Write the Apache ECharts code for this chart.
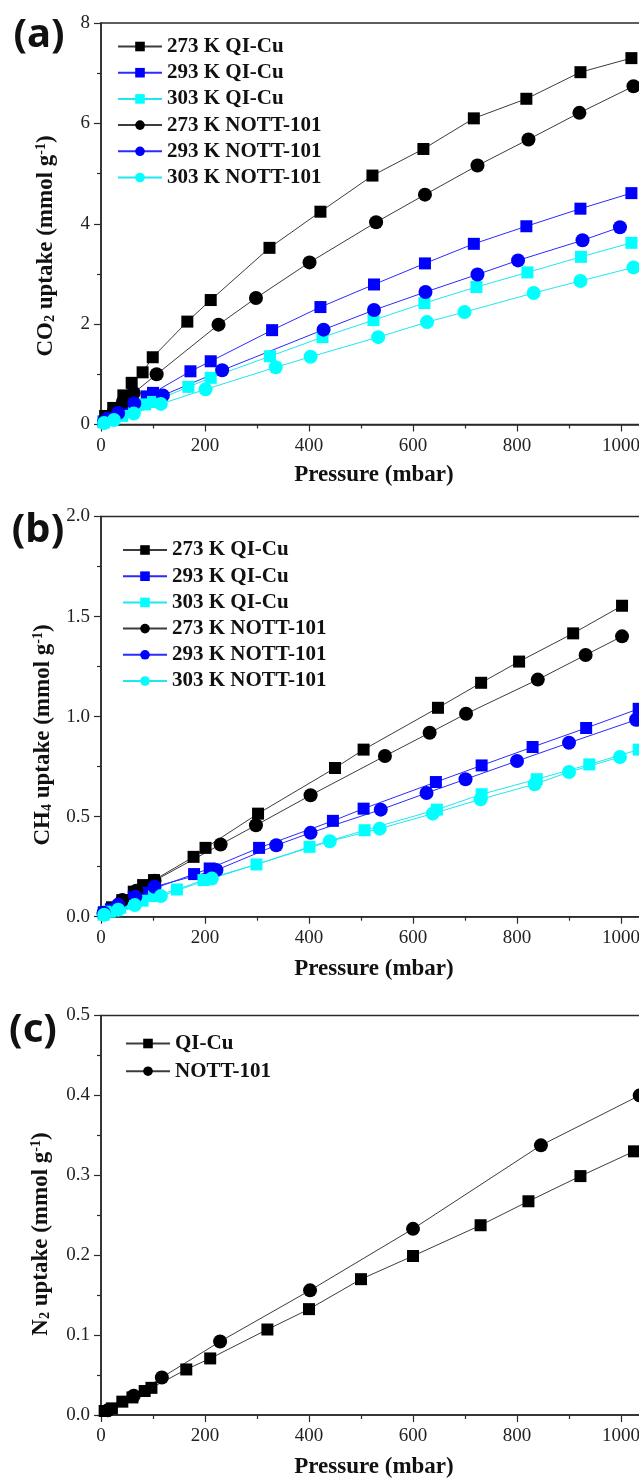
<!DOCTYPE html>
<html>
<head>
<meta charset="utf-8">
<script src="https://cdn.jsdelivr.net/npm/echarts@6/dist/echarts.min.js"></script>
<style>
  html, body { margin: 0; padding: 0; background: #fff; }
  #chart { width: 639px; height: 1479px; }
</style>
</head>
<body>
<div id="chart"></div>
<script>
// Pressure (mbar) / uptake (mmol g-1) pairs for each isotherm
const co2_273_qicu = [[8,0.17],[23.5,0.33],[43,0.58],[59,0.83],[80,1.04],[99.5,1.34],[166,2.05],[211,2.48],[324,3.52],[422,4.24],[522,4.96],[620,5.49],[717,6.10],[818,6.49],[922,7.02],[1020,7.30]];
const co2_293_qicu = [[5,0.06],[17,0.13],[41,0.27],[60,0.43],[88,0.56],[100,0.63],[172,1.06],[211,1.26],[329,1.88],[422,2.34],[525,2.79],[623,3.21],[717,3.60],[818,3.95],[922,4.30],[1020,4.61]];
const co2_303_qicu = [[5,0.04],[17,0.09],[41,0.17],[64,0.33],[85,0.40],[100,0.45],[168,0.75],[211,0.93],[325,1.36],[426,1.74],[524,2.08],[622,2.42],[722,2.74],[820,3.03],[923,3.34],[1020,3.62]];
const co2_273_nott = [[7,0.09],[25,0.27],[42,0.45],[63,0.63],[107,1.00],[226,1.99],[298,2.52],[401,3.23],[529,4.03],[623,4.58],[724,5.16],[822,5.68],[920,6.21],[1024,6.74]];
const co2_293_nott = [[6,0.05],[13,0.11],[33,0.23],[64,0.42],[119,0.58],[233,1.08],[428,1.89],[525,2.28],[624,2.64],[724,2.99],[802,3.27],[926,3.67],[998,3.93]];
const co2_303_nott = [[6,0.03],[25,0.09],[63,0.22],[115,0.41],[201,0.70],[336,1.14],[403,1.35],[533,1.74],[627,2.04],[699,2.24],[832,2.62],[922,2.86],[1024,3.13]];

const ch4_273_qicu = [[5.5,0.020],[21,0.047],[41,0.083],[63,0.125],[81,0.158],[102,0.183],[178,0.299],[201,0.344],[302,0.515],[450,0.743],[505,0.835],[648,1.044],[731,1.169],[804,1.275],[908,1.416],[1002,1.554]];
const ch4_293_qicu = [[5.5,0.022],[19,0.037],[41,0.067],[63,0.100],[81,0.120],[102,0.141],[179,0.213],[209,0.241],[304,0.344],[446,0.479],[505,0.540],[644,0.673],[732,0.756],[830,0.848],[933,0.943],[1034,1.039]];
const ch4_303_qicu = [[5,0.010],[17,0.025],[37,0.045],[60,0.065],[80,0.080],[102,0.103],[146,0.136],[197,0.183],[299,0.261],[401,0.349],[507,0.432],[646,0.535],[732,0.612],[838,0.687],[939,0.761],[1034,0.835]];
const ch4_273_nott = [[5,0.015],[41,0.083],[68,0.130],[103,0.180],[230,0.361],[298,0.457],[403,0.607],[546,0.803],[632,0.919],[702,1.014],[840,1.185],[932,1.308],[1002,1.401]];
const ch4_293_nott = [[5,0.020],[33,0.060],[66,0.100],[103,0.150],[222,0.233],[337,0.357],[403,0.419],[538,0.535],[626,0.618],[701,0.687],[800,0.778],[900,0.869],[1029,0.984]];
const ch4_303_nott = [[6,0.010],[33,0.035],[65,0.058],[115,0.103],[213,0.191],[440,0.377],[536,0.440],[638,0.515],[730,0.587],[834,0.662],[900,0.723],[998,0.798]];

const n2_qicu = [[7,0.005],[21,0.0083],[41,0.0167],[60.5,0.022],[84,0.030],[97,0.034],[164,0.057],[210,0.0708],[320,0.107],[400,0.1325],[500,0.170],[600,0.199],[730,0.2375],[822,0.2675],[922,0.299],[1025,0.330]];
const n2_nott = [[13,0.006],[63,0.024],[117,0.047],[229,0.092],[402,0.156],[600,0.233],[846,0.3375],[1036,0.400]];

// Axis ranges and tick steps
const xRange = [0, 1050, 200];
const yRanges = [[0, 8, 2], [0, 2, 0.5], [0, 0.5, 0.1]];
const panelLabels = ['(a)', '(b)', '(c)'];
const gasNames = ['CO', 'CH', 'N'];
const gasSubs = ['2', '4', '2'];
const legendNames6 = ['273 K QI-Cu', '293 K QI-Cu', '303 K QI-Cu', '273 K NOTT-101', '293 K NOTT-101', '303 K NOTT-101'];
const legendNames2 = ['QI-Cu', 'NOTT-101'];

const SERIF = '"Liberation Serif", "Times New Roman", serif';
const AXIS_COLOR = '#2a2a2a';
const COLORS = { k: '#000000', b: '#0000ff', c: '#00ffff' };
const LINE_COLORS = { k: '#3c3c3c', b: '#2b2bff', c: '#1ee8ee' };

// Layout of the three stacked panels (pixels); the right side runs past the page edge
const grids = [
  { left: 101, top: 23, width: 546, height: 401.5 },
  { left: 101, top: 516.5, width: 546, height: 400.2 },
  { left: 101, top: 1015.5, width: 546, height: 399.5 }
];
const xNameGaps = [39, 41, 41];
const legendTops = [31, 534.5, 1028];
const legendLefts = [112, 117, 120];
const legendGaps = [5.2, 5.2, 6.7];
const yTitlePos = [[46, 246], [43, 735], [41, 1234]];
const labelPos = [[39, 36], [38, 531], [33, 1031]];

function xAxisFor(i) {
  return {
    type: 'value', gridIndex: i,
    min: xRange[0], max: xRange[1], interval: xRange[2],
    name: 'Pressure (mbar)', nameLocation: 'middle', nameGap: xNameGaps[i],
    nameTextStyle: { fontFamily: SERIF, fontWeight: 'bold', fontSize: 23, color: '#111' },
    axisLine: { show: true, lineStyle: { color: AXIS_COLOR, width: 1.5 } },
    axisTick: { show: true, inside: false, length: 7, lineStyle: { color: AXIS_COLOR, width: 1.2 } },
    minorTick: { show: true, splitNumber: 2, length: 4, lineStyle: { color: AXIS_COLOR, width: 1.2 } },
    axisLabel: {
      fontFamily: SERIF, fontSize: 19, color: '#222', margin: 12,
      formatter: v => (v % 200 === 0 ? String(v) : '')
    },
    splitLine: { show: false }
  };
}

function yAxisFor(i) {
  const r = yRanges[i];
  const dec = i === 0 ? 0 : 1;
  return {
    type: 'value', gridIndex: i,
    min: r[0], max: r[1], interval: r[2],
    axisLine: { show: true, lineStyle: { color: AXIS_COLOR, width: 1.5 } },
    axisTick: { show: true, inside: false, length: 7, lineStyle: { color: AXIS_COLOR, width: 1.2 } },
    minorTick: { show: true, splitNumber: 2, length: 4, lineStyle: { color: AXIS_COLOR, width: 1.2 } },
    axisLabel: {
      fontFamily: SERIF, fontSize: 19, color: '#222', margin: 11,
      formatter: v => v.toFixed(dec)
    },
    splitLine: { show: false }
  };
}

function line(name, data, i, shape, tone) {
  return {
    type: 'line', name: name, data: data,
    xAxisIndex: i, yAxisIndex: i,
    symbol: shape === 'sq' ? 'rect' : 'circle',
    symbolSize: shape === 'sq' ? 12 : 14,
    showAllSymbol: true,
    itemStyle: { color: COLORS[tone] },
    lineStyle: { color: LINE_COLORS[tone], width: 1 },
    emphasis: { disabled: true },
    animation: false
  };
}

const series = [
  line(legendNames6[0], co2_273_qicu, 0, 'sq', 'k'),
  line(legendNames6[1], co2_293_qicu, 0, 'sq', 'b'),
  line(legendNames6[2], co2_303_qicu, 0, 'sq', 'c'),
  line(legendNames6[3], co2_273_nott, 0, 'ci', 'k'),
  line(legendNames6[4], co2_293_nott, 0, 'ci', 'b'),
  line(legendNames6[5], co2_303_nott, 0, 'ci', 'c'),
  line(legendNames6[0], ch4_273_qicu, 1, 'sq', 'k'),
  line(legendNames6[1], ch4_293_qicu, 1, 'sq', 'b'),
  line(legendNames6[2], ch4_303_qicu, 1, 'sq', 'c'),
  line(legendNames6[3], ch4_273_nott, 1, 'ci', 'k'),
  line(legendNames6[4], ch4_293_nott, 1, 'ci', 'b'),
  line(legendNames6[5], ch4_303_nott, 1, 'ci', 'c'),
  line(legendNames2[0], n2_qicu, 2, 'sq', 'k'),
  line(legendNames2[1], n2_nott, 2, 'ci', 'k')
];

function legendFor(i, names) {
  return {
    orient: 'vertical',
    left: legendLefts[i], top: legendTops[i],
    itemWidth: 44, itemHeight: 12, itemGap: legendGaps[i],
    selectedMode: false,
    data: names,
    textStyle: { fontFamily: SERIF, fontWeight: 'bold', fontSize: 21, color: '#111' }
  };
}

// Panel letters and rotated y-axis titles with sub/superscripts
const graphics = [];
for (let i = 0; i < 3; i++) {
  graphics.push({
    type: 'text', x: labelPos[i][0], y: labelPos[i][1],
    style: {
      text: panelLabels[i], align: 'center', verticalAlign: 'middle',
      fontFamily: '"Noto Sans", "Open Sans", sans-serif', fontWeight: 'bold', fontSize: 40, fill: '#111'
    }
  });
  graphics.push({
    type: 'text', x: yTitlePos[i][0], y: yTitlePos[i][1], rotation: Math.PI / 2,
    style: {
      text: '{m|' + gasNames[i] + '}{sub|' + gasSubs[i] + '}{m| uptake (mmol g}{sup|-1}{m|)}',
      align: 'center', verticalAlign: 'middle',
      rich: {
        m: { fontFamily: SERIF, fontWeight: 'bold', fontSize: 23, lineHeight: 23, fill: '#111', color: '#111' },
        sub: { fontFamily: SERIF, fontWeight: 'bold', fontSize: 14, lineHeight: 6, fill: '#111', color: '#111', verticalAlign: 'bottom' },
        sup: { fontFamily: SERIF, fontWeight: 'bold', fontSize: 14, lineHeight: 8, fill: '#111', color: '#111', verticalAlign: 'top' }
      }
    }
  });
}

const chart = echarts.init(document.getElementById('chart'), null, { renderer: 'canvas' });
chart.setOption({
  backgroundColor: '#ffffff',
  animation: false,
  grid: grids.map(g => Object.assign({
    show: true, borderColor: AXIS_COLOR, borderWidth: 1.5, backgroundColor: 'transparent',
    containLabel: false, outerBoundsMode: 'none'
  }, g)),
  xAxis: [0, 1, 2].map(xAxisFor),
  yAxis: [0, 1, 2].map(yAxisFor),
  legend: [legendFor(0, legendNames6), legendFor(1, legendNames6), legendFor(2, legendNames2)],
  series: series,
  graphic: graphics
});
</script>
</body>
</html>
